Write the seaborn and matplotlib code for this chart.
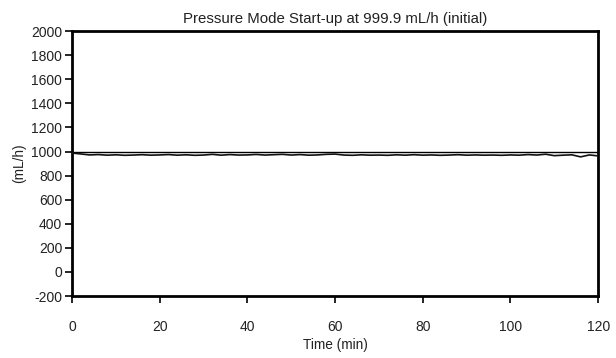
import matplotlib
matplotlib.use("Agg")
import matplotlib.pyplot as plt
import seaborn as sns
import pandas as pd

time_min = list(range(0, 121, 2))
flow_ml_h = [988, 980, 972, 975, 970, 973, 969, 971, 974, 970,
             972, 975, 970, 973, 969, 971, 977, 970, 975, 971,
             972, 976, 971, 974, 977, 971, 975, 970, 972, 977,
             979, 971, 969, 973, 970, 971, 969, 973, 970, 974,
             970, 972, 969, 971, 974, 970, 972, 970, 971, 969,
             972, 970, 975, 971, 978, 966, 970, 973, 956, 972, 964]
setpoint = 999.9
x_ticks = [0, 20, 40, 60, 80, 100, 120]
y_ticks = list(range(-200, 2001, 200))

sns.set_theme(style="white")
plt.rcParams['font.family'] = ['Liberation Sans', 'DejaVu Sans']
plt.rcParams['axes.unicode_minus'] = False

df = pd.DataFrame({"Time (min)": time_min, "flow": flow_ml_h})

fig = plt.figure(figsize=(6.16, 3.58), dpi=100)
ax = fig.add_axes([0.117, 0.173, 0.854, 0.740])

ax.axhline(setpoint, color="black", lw=1.0, zorder=2)
sns.lineplot(data=df, x="Time (min)", y="flow", ax=ax, color="#111111", lw=1.2, zorder=3)

ax.set_xlim(0, 120)
ax.set_ylim(-200, 2000)
ax.set_xticks(x_ticks)
ax.set_yticks(y_ticks)
ax.set_xlabel("Time (min)", fontsize=9.8, color="#222222", labelpad=3)
ax.set_ylabel("(mL/h)", fontsize=9.8, labelpad=4, color="#222222")
ax.set_title("Pressure Mode Start-up at 999.9 mL/h (initial)", fontsize=10.8, pad=6, color="#222222")
for s in ax.spines.values():
    s.set_color("black")
    s.set_linewidth(2)
ax.tick_params(axis="both", which="major", direction="out", length=5, width=1.2,
               color="black", labelsize=10, labelcolor="#222222", left=True, bottom=True)
ax.tick_params(axis="x", pad=12)
ax.tick_params(axis="y", pad=2)
ax.grid(False)

fig.savefig("out.png", dpi=100, facecolor="white")
